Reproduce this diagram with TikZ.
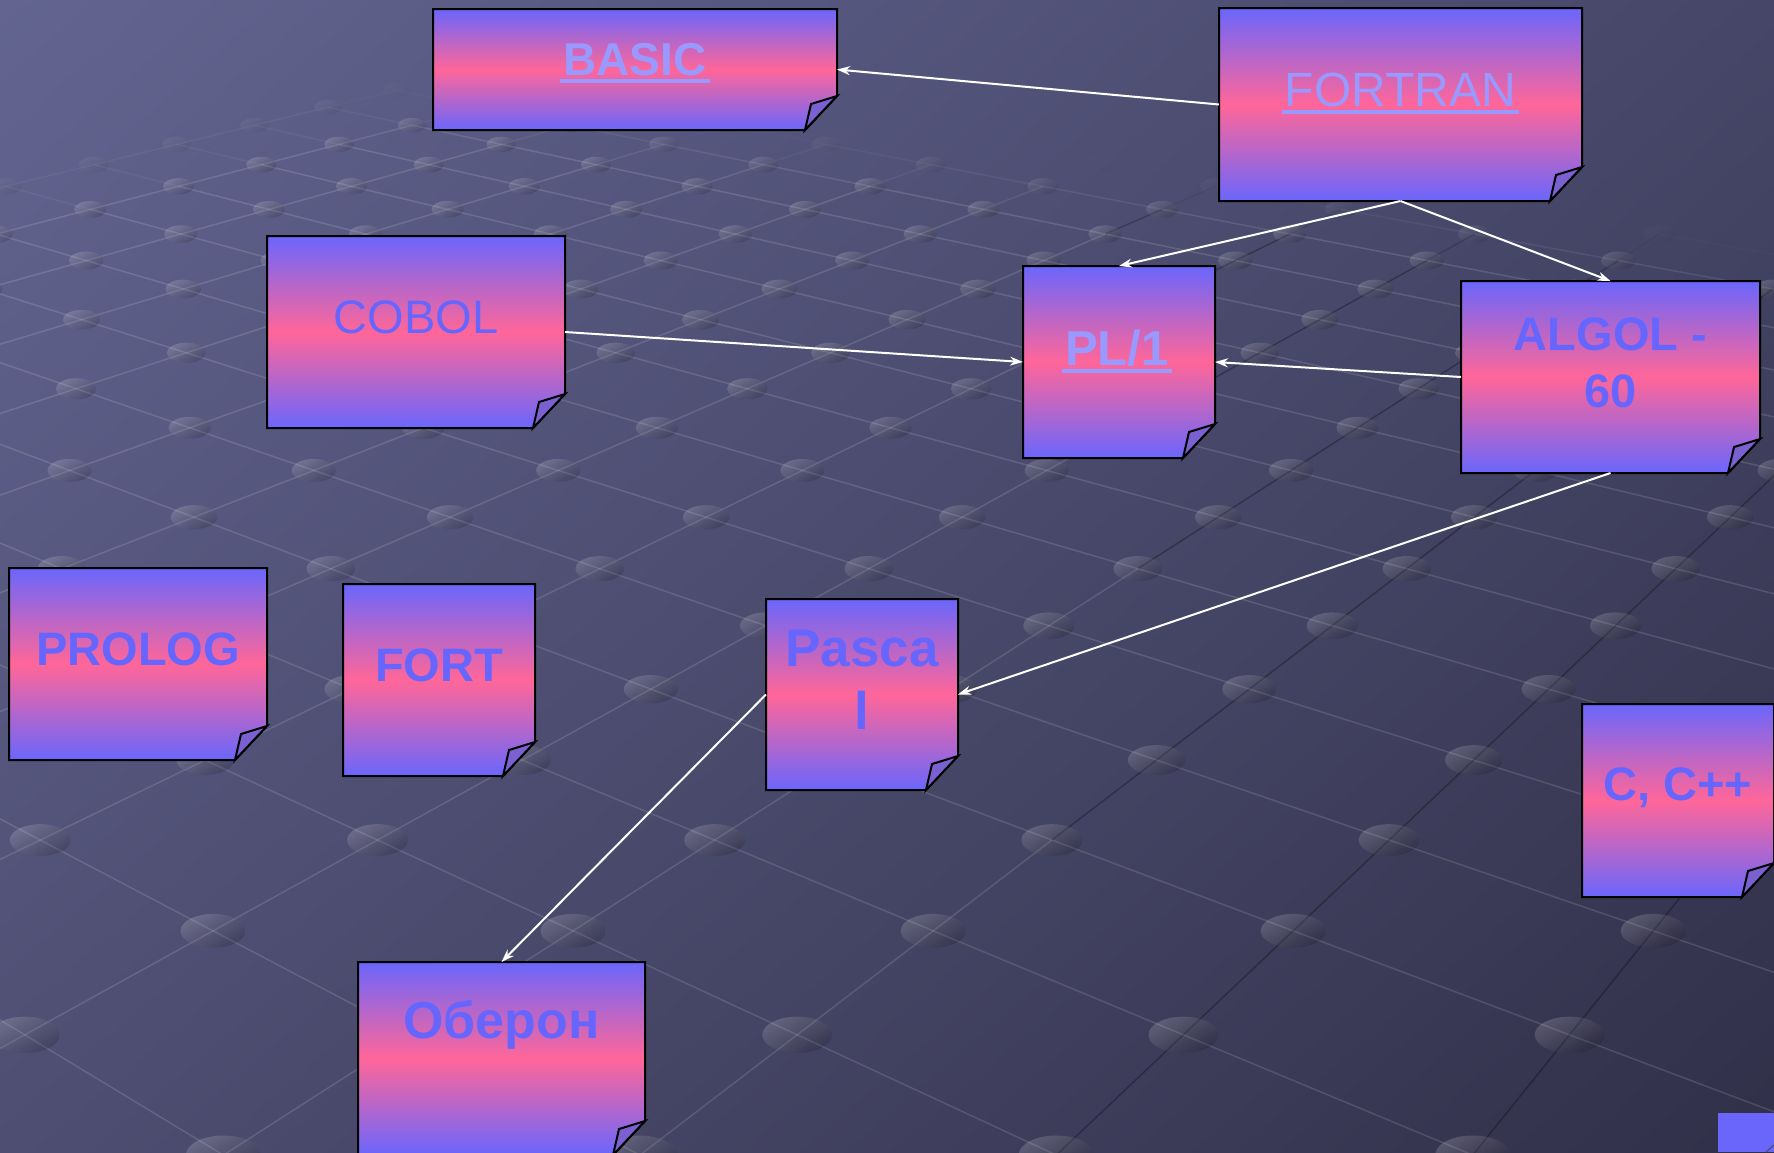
\documentclass[tikz,border=0pt]{standalone}
\usepackage{fontspec}
\setmainfont{Liberation Sans}
\usetikzlibrary{calc,arrows.meta,shadings}

\definecolor{paperblue}{RGB}{106,102,252}
\definecolor{paperpink}{RGB}{255,102,153}
\definecolor{flapfill}{RGB}{122,96,208}
\definecolor{ink}{RGB}{102,102,255}
\definecolor{linkink}{RGB}{153,153,255}
\definecolor{bgTL}{RGB}{99,101,145}
\definecolor{bgTR}{RGB}{70,70,104}
\definecolor{bgBL}{RGB}{78,78,114}
\definecolor{bgBR}{RGB}{49,48,73}

\pgfdeclarelayer{backdrop}
\pgfdeclarelayer{paper}
\pgfsetlayers{backdrop,paper,main}

% underlined hyperlink-style text
\newcommand\linkul[1]{\setbox0=\hbox{#1}\rlap{\kern-3pt\rule[-8pt]{\dimexpr\wd0+6pt\relax}{4.5pt}}\box0}

% a note sheet with a curled bottom-right corner: name, centre x, centre y, width, height
\newcommand\papernote[5]{%
  \node[sheet, minimum width=#4pt, minimum height=#5pt] (#1) at (#2,#3) {};
  \begin{pgfonlayer}{paper}
    \path[sheetbody] (#1.north west) -- (#1.north east)
      -- ($(#1.south east)+(0,-34)$) -- ($(#1.south east)+(-32,0)$)
      -- (#1.south west) -- cycle;
    \filldraw[flap] ($(#1.south east)+(-32,0)$) -- ($(#1.south east)+(-26,-26)$)
      -- ($(#1.south east)+(0,-34)$) -- cycle;
  \end{pgfonlayer}}

\tikzset{
  sheet/.style={rectangle, inner sep=0pt, outer sep=0pt},
  sheetbody/.style={draw=black, line width=2pt, line join=miter,
    top color=paperblue, bottom color=paperblue, middle color=paperpink},
  flap/.style={draw=black, line width=2pt, line join=miter, fill=flapfill},
  langtext/.style={text=ink, anchor=base, inner sep=0pt,
    font=\bfseries\fontsize{47}{57}\selectfont},
  linktext/.style={text=linkink, anchor=base, inner sep=0pt},
  link/.style={draw=white, line width=2pt, -{Stealth[length=13pt,width=9pt]}},
  gridline/.style={line width=1.5pt},
  griddot/.style={top color=white, bottom color=black, shading angle=30},
}

\begin{document}
\begin{tikzpicture}[x=1pt,y=-1pt]
\useasboundingbox (0,0) rectangle (1774,1152);

% backdrop: diagonal gradient with a receding lattice of rods and beads
\begin{pgfonlayer}{backdrop}
  \shade[upper left=bgTL, upper right=bgTR, lower left=bgBL, lower right=bgBR]
    (0,0) rectangle (1774,1152);
  \begin{scope}
    \clip (0,0) rectangle (1774,1152);
    \foreach \r in {-17,...,8}{
      \pgfmathsetmacro\d{20.77-\r}
      \pgfmathsetmacro\dn{\d-1}
      \pgfmathsetmacro\yy{-501+211.48/\d*100}
      \pgfmathsetmacro\yn{-501+211.48/\dn*100}
      \pgfmathsetmacro\off{0.84-0.339*\r-floor(0.84-0.339*\r)}
      \pgfmathsetmacro\rx{480/\d}
      \pgfmathsetmacro\ry{250/\d}
      \foreach \k in {-10,...,8}{
        \pgfmathsetmacro\u{\k+\off}
        \pgfmathsetmacro\xx{1003+5318/\d*\u}
        \pgfmathsetmacro\xl{1003+5318/\dn*(\u-0.339)}
        \pgfmathsetmacro\xr{1003+5318/\dn*(\u+0.661)}
        % far edge of the lattice: fade out beyond it
        \pgfmathsetmacro\edge{\xx<373 ? 89+(373-\xx)*0.24 : 89+(\xx-373)*0.115}
        \pgfmathsetmacro\f{max(0,min(1,(\yy-\edge+10)/50))}
        \pgfmathsetmacro\lo{0.13*\f}
        \pgfmathsetmacro\dk{0.28*\f}
        \pgfmathsetmacro\po{0.17*\f}
        \ifdim\f pt>0pt
          \draw[gridline, draw=white, opacity=\lo] (\xx,\yy) -- (\xr,\yn);
          \ifdim\xx pt>1150pt
            \draw[gridline, draw=black, opacity=\dk] (\xx,\yy) -- (\xl,\yn);
          \else
            \draw[gridline, draw=white, opacity=\lo] (\xx,\yy) -- (\xl,\yn);
          \fi
          \shade[griddot, fill opacity=\po] (\xx,\yy) ellipse [x radius=\rx, y radius=\ry];
        \fi
      }
    }
  \end{scope}
\end{pgfonlayer}

% note sheets
\papernote{basic}{635}{69.5}{404}{121}
\papernote{fortran}{1400.5}{104.5}{363}{193}
\papernote{cobol}{416}{332}{298}{192}
\papernote{pl1}{1119}{362}{192}{192}
\papernote{algol}{1610.5}{377}{299}{192}
\papernote{prolog}{138}{664}{258}{192}
\papernote{fort}{439}{680}{192}{192}
\papernote{pascal}{862}{694.5}{192}{191}
\papernote{cpp}{1678}{800.5}{192}{193}
\papernote{oberon}{501.5}{1058.5}{287}{193}

% corner of a further sheet at the lower right
\begin{pgfonlayer}{paper}
  \fill[paperblue] (1718,1113) rectangle (1774,1152);
  \draw[black!70, line width=1pt] (1766,1152) -- (1774,1145);
\end{pgfonlayer}

% sheet titles
\node[linktext, font=\bfseries\fontsize{46}{55}\selectfont] (basic-name) at (635,75) {\linkul{BASIC}};
\node[linktext, font=\fontsize{48}{57}\selectfont] (fortran-name) at (1400.5,106) {\linkul{FORTRAN}};
\node[langtext, font=\fontsize{47}{57}\selectfont] (cobol-name) at (416,333) {COBOL};
\node[linktext, font=\bfseries\fontsize{49}{58}\selectfont] (pl1-name) at (1117,365) {\linkul{PL/1}};
\node[langtext] (algol-name) at (1610.5,350) {\begin{tabular}[t]{@{}c@{}}ALGOL -\\60\end{tabular}};
\node[langtext] (prolog-name) at (138,665.5) {PROLOG};
\node[langtext] (fort-name) at (439,681) {FORT};
\node[langtext, font=\bfseries\fontsize{53}{63}\selectfont] (pascal-name) at (862,666) {\begin{tabular}[t]{@{}c@{}}Pasca\\l\end{tabular}};
\node[langtext, font=\bfseries\fontsize{52}{60}\selectfont] (oberon-name) at (501.5,1038) {Оберон};
\node[langtext] (cpp-name) at (1678,800) {C, C++};

% lineage arrows
\draw[link] (fortran.west) -- (basic.east);
\draw[link] (fortran.south) -- (pl1.north);
\draw[link] (fortran.south) -- (algol.north);
\draw[link] (cobol.east) -- (pl1.west);
\draw[link] (algol.west) -- (pl1.east);
\draw[link] (algol.south) -- (pascal.east);
\draw[link] (pascal.west) -- (oberon.north);
\end{tikzpicture}
\end{document}
